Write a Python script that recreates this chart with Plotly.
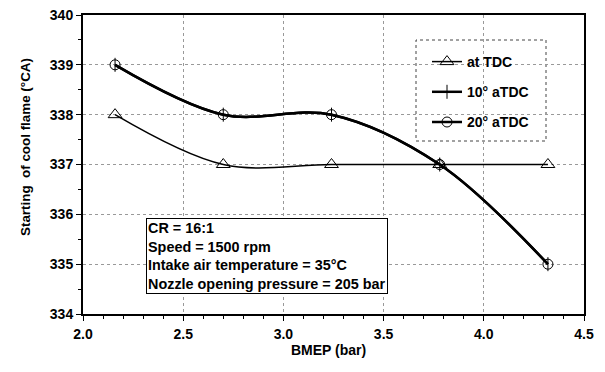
import plotly.graph_objects as go

bmep = [2.16, 2.70, 3.24, 3.78, 4.32]
at_tdc = [338, 337, 337, 337, 337]
deg10_atdc = [339, 338, 338, 337, 335]
deg20_atdc = [339, 338, 338, 337, 335]
x_ticks = [2.0, 2.5, 3.0, 3.5, 4.0, 4.5]
y_ticks = [334, 335, 336, 337, 338, 339, 340]

FONT = "Arial, Liberation Sans, sans-serif"
FS = 14

fig = go.Figure()
fig.add_trace(go.Scatter(
    x=bmep, y=at_tdc, name="at TDC", mode="lines+markers",
    line=dict(color="black", width=1.5, shape="spline", smoothing=1),
    marker=dict(symbol="triangle-up-open", size=12, color="black", line=dict(width=1)),
    legendgroup="a", legendrank=1))
fig.add_trace(go.Scatter(
    x=bmep, y=deg20_atdc, name="20° aTDC", mode="lines+markers",
    line=dict(color="black", width=2.5, shape="spline", smoothing=1),
    marker=dict(symbol="circle-open", size=10, color="black", line=dict(width=1)),
    legendgroup="c", legendrank=3))
fig.add_trace(go.Scatter(
    x=bmep, y=deg10_atdc, name="10° aTDC", mode="lines+markers",
    line=dict(color="black", width=2.5, shape="spline", smoothing=1),
    marker=dict(symbol="line-ns-open", size=10, color="black", line=dict(width=1)),
    legendgroup="b", legendrank=2))

# legend frame
fig.add_shape(type="rect", xref="paper", yref="paper",
              x0=(416 - 83) / 501, x1=(546 - 83) / 501,
              y0=(314 - 141) / 299, y1=(314 - 40) / 299,
              line=dict(color="#444444", width=1, dash="dot"),
              fillcolor="white", layer="between")

fig.add_annotation(
    x=0.126, y=0.321, xref="paper", yref="paper", xanchor="left", yanchor="top",
    text="CR = 16:1<br>Speed = 1500 rpm<br>Intake air temperature = 35°C<br>Nozzle opening pressure = 205 bar",
    showarrow=False, align="left",
    font=dict(family=FONT, size=14.4, color="black", weight="bold"),
    bgcolor="white", bordercolor="black", borderwidth=1, borderpad=1)

fig.add_annotation(
    x=(25 - 83) / 501, y=(314 - 147) / 299, xref="paper", yref="paper",
    xanchor="center", yanchor="middle", textangle=-90, showarrow=False,
    text="Starting  of cool flame (°CA)",
    font=dict(family=FONT, size=13.4, color="black", weight="bold"))

fig.add_annotation(
    x=(328 - 83) / 501, y=(314 - 350) / 299, xref="paper", yref="paper",
    xanchor="center", yanchor="middle", showarrow=False,
    text="BMEP (bar)",
    font=dict(family=FONT, size=FS, color="black", weight="bold"))

axis_common = dict(
    showline=True, linecolor="black", linewidth=2, mirror=True,
    showgrid=True, gridcolor="#999999", griddash="dot", gridwidth=1,
    ticks="outside", ticklen=5, tickcolor="black", zeroline=False,
    tickfont=dict(family=FONT, size=FS, color="black", weight="bold"),
    automargin=False,
)

fig.update_xaxes(
    range=[2.0, 4.5], tickvals=x_ticks, ticktext=[f"{v:.1f}" for v in x_ticks],
    ticklabelstandoff=1,
    minor=dict(dtick=0.1, ticks="outside", ticklen=3, tickcolor="black"),
    **axis_common)
fig.update_yaxes(
    range=[334, 340], tickvals=y_ticks,
    minor=dict(dtick=0.5, ticks="outside", ticklen=3, tickcolor="black"),
    **axis_common)

fig.update_layout(
    width=605, height=372,
    margin=dict(l=83, r=21, t=15, b=58),
    paper_bgcolor="white", plot_bgcolor="white",
    showlegend=True,
    legend=dict(
        x=(427 - 83) / 501, y=(314 - 46) / 299, xanchor="left", yanchor="top",
        bgcolor="rgba(0,0,0,0)", borderwidth=0,
        font=dict(family=FONT, size=FS, color="black", weight="bold"),
        tracegroupgap=9, itemwidth=30,
    ),
)

fig.write_html("out.html")
